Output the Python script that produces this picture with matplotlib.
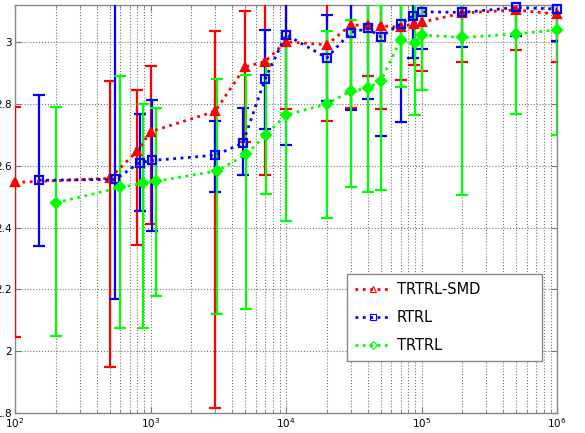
import matplotlib
matplotlib.use("Agg")
import matplotlib.pyplot as plt
from matplotlib.lines import Line2D
from matplotlib.ticker import LogLocator, FixedLocator, NullFormatter
import numpy as np

# ---- data ----
red_x = [100, 500, 800, 1000, 3000, 5000, 7000, 1e4, 2e4, 3e4, 4e4, 5e4, 7e4, 8.8e4, 1e5, 2e5, 5e5, 1e6]
red_y = [2.546, 2.559, 2.648, 2.71, 2.776, 2.92, 2.937, 3.001, 2.991, 3.055, 3.055, 3.053, 3.048, 3.06, 3.064, 3.094, 3.104, 3.09]
red_lo = [2.046, 1.948, 2.344, 2.41, 1.815, 2.677, 2.569, 2.785, 2.744, 2.788, 2.889, 2.783, 2.876, 2.925, 2.905, 2.937, 2.974, 2.934]
red_hi = [2.79, 2.875, 2.845, 2.923, 3.036, 3.10, 3.25, 3.2, 3.25, 3.3, 3.22, 3.3, 3.22, 3.2, 3.22, 3.25, 3.23, 3.25]

blue_x = [150, 550, 830, 1030, 3000, 4800, 7000, 1e4, 2e4, 3e4, 4e4, 5e4, 7e4, 8.7e4, 1e5, 2e5, 5e5, 1e6]
blue_y = [2.553, 2.556, 2.61, 2.617, 2.634, 2.673, 2.88, 3.024, 2.949, 3.031, 3.044, 3.018, 3.058, 3.085, 3.098, 3.096, 3.112, 3.107]
blue_lo = [2.34, 2.17, 2.455, 2.39, 2.514, 2.569, 2.718, 2.667, 2.81, 2.78, 2.815, 2.696, 2.74, 2.947, 2.977, 2.983, 3.02, 3.004]
blue_hi = [2.83, 3.3, 2.767, 2.812, 2.744, 2.788, 3.039, 3.3, 3.088, 3.3, 3.27, 3.34, 3.38, 3.22, 3.22, 3.21, 3.2, 3.21]

green_x = [200, 600, 880, 1100, 3100, 5100, 7100, 1e4, 2e4, 3e4, 4e4, 5e4, 7e4, 9e4, 1e5, 2e5, 5e5, 1e6]
green_y = [2.48, 2.53, 2.543, 2.55, 2.583, 2.637, 2.70, 2.764, 2.80, 2.842, 2.85, 2.873, 3.007, 2.997, 3.023, 3.015, 3.026, 3.04]
green_lo = [2.05, 2.075, 2.075, 2.178, 2.12, 2.137, 2.507, 2.42, 2.43, 2.531, 2.515, 2.52, 2.856, 2.763, 2.845, 2.504, 2.767, 2.70]
green_hi = [2.79, 2.889, 2.80, 2.788, 2.882, 2.893, 2.929, 3.01, 3.037, 3.072, 3.3, 3.12, 3.3, 3.3, 3.3, 3.3, 3.3, 3.3]

labels = ["TRTRL-SMD", "RTRL", "TRTRL"]
y_ticks = [1.8, 2.0, 2.2, 2.4, 2.6, 2.8, 3.0]
y_tick_labels = ["1.8", "2", "2.2", "2.4", "2.6", "2.8", "3"]

W, H = 585, 433
fig = plt.figure(figsize=(W / 100, H / 100), dpi=100)
ax = fig.add_axes([15 / W, 1 - 413 / H, (557 - 15) / W, (413 - 5) / H])

series = [
    (red_x, red_y, red_lo, red_hi, "#ff0000", "^", "#ff0000"),
    (blue_x, blue_y, blue_lo, blue_hi, "#0000ff", "s", "none"),
    (green_x, green_y, green_lo, green_hi, "#00ff00", "D", "#00ff00"),
]

for xs, ys, lo, hi, col, mk, mfc in series:
    xs = np.array(xs); ys = np.array(ys)
    yerr = np.vstack([ys - np.array(lo), np.array(hi) - ys])
    ax.errorbar(xs, ys, yerr=yerr, fmt="none", ecolor=col, elinewidth=1.6,
                capsize=4, capthick=1.6, zorder=3)
    ax.plot(xs, ys, linestyle=":", color=col, linewidth=2.0, marker=mk,
            markersize=6 if mk != "D" else 5, markerfacecolor=mfc,
            markeredgecolor=col, markeredgewidth=1.6, zorder=4, clip_on=False)

ax.set_xscale("log")
ax.set_xlim(1e2, 1e6)
ax.set_ylim(1.8, 3.12)
ax.set_yticks(y_ticks)
ax.set_yticklabels(y_tick_labels)
ax.xaxis.set_major_locator(FixedLocator([1e2, 1e3, 1e4, 1e5, 1e6]))
ax.xaxis.set_minor_locator(LogLocator(base=10, subs=np.arange(2, 10), numticks=20))
ax.xaxis.set_minor_formatter(NullFormatter())
ax.set_xticklabels([r"$10^{2}$", r"$10^{3}$", r"$10^{4}$", r"$10^{5}$", r"$10^{6}$"])

ax.grid(True, which="major", axis="both", linestyle=":", color="#777777", linewidth=0.8)
ax.grid(True, which="minor", axis="x", linestyle=":", color="#777777", linewidth=0.8)
ax.set_axisbelow(True)

ax.tick_params(which="both", direction="in", top=True, right=True, labelsize=7.5,
               color="#777777", pad=2)
ax.tick_params(which="major", length=4)
ax.tick_params(which="minor", length=2)
for s in ax.spines.values():
    s.set_color("#888888")
    s.set_linewidth(1.0)

handles = [
    Line2D([], [], linestyle=":", color="#ff0000", linewidth=2, marker="^", markersize=5,
           markerfacecolor="none", markeredgecolor="#ff0000", markeredgewidth=0.8),
    Line2D([], [], linestyle=":", color="#0000ff", linewidth=2, marker="s", markersize=5,
           markerfacecolor="none", markeredgecolor="#0000ff", markeredgewidth=0.8),
    Line2D([], [], linestyle=":", color="#00ff00", linewidth=2, marker="D", markersize=4.5,
           markerfacecolor="none", markeredgecolor="#00ff00", markeredgewidth=0.8),
]
x0, x1 = 347 / W, 542 / W
y1, y0 = 1 - 274 / H, 1 - 368 / H
leg = fig.legend(handles, labels, loc="upper left",
                 bbox_to_anchor=(x0, y0, x1 - x0, y1 - y0), mode="expand",
                 fontsize=10.5, frameon=True, fancybox=False, framealpha=1,
                 edgecolor="#888888", handlelength=2.5, handletextpad=0.35,
                 labelspacing=0.9, borderpad=0.55, borderaxespad=0)
leg.get_frame().set_linewidth(1.0)

fig.savefig("out.png", dpi=100)
